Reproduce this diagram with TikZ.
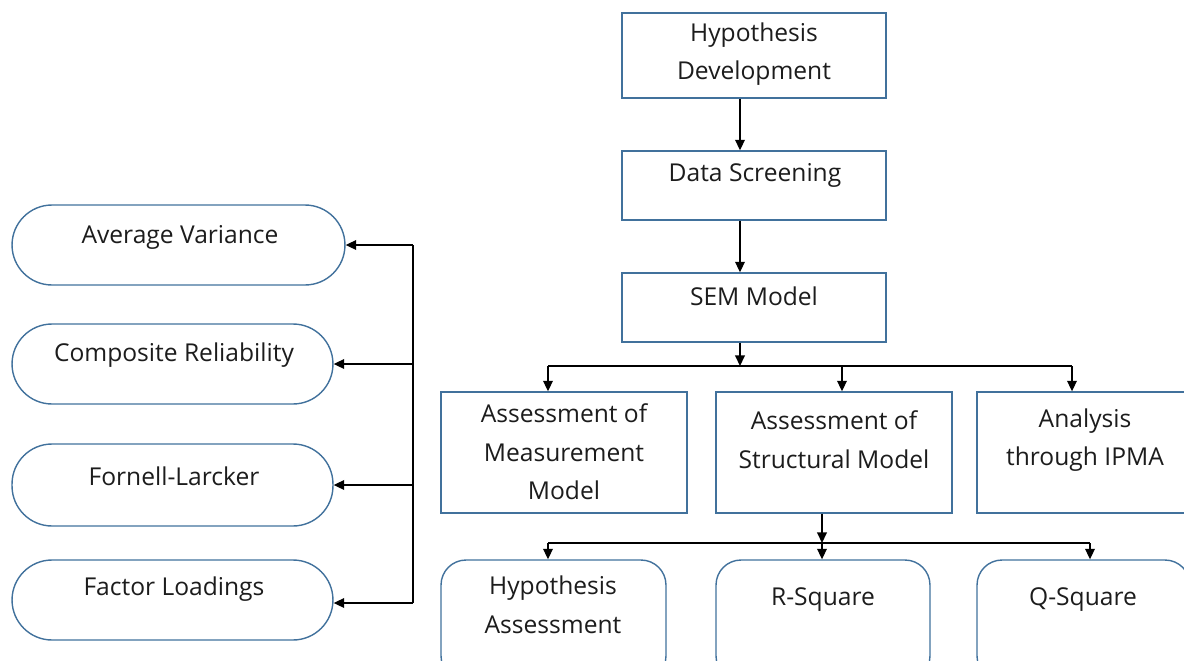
\documentclass[tikz,border=0pt]{standalone}
\usepackage{fontspec}
\setmainfont{Open Sans}
\usetikzlibrary{arrows.meta,positioning}

\definecolor{boxline}{HTML}{41719C}
\definecolor{inkgray}{HTML}{1C1C1C}

\begin{document}
\begin{tikzpicture}[
                    x=0.02cm, y=-0.02cm,
                    every node/.style={font=\fontsize{14}{22}\selectfont, text=inkgray},
                    stepbox/.style={rectangle, draw=boxline, line width=0.8pt, inner sep=0pt},
                    softbox/.style={stepbox, rounded corners=0.5cm},
                    pill/.style={stepbox, rounded corners=0.8cm},
                    txt/.style={align=center, inner sep=0pt},
                    link/.style={line width=0.8pt, -{Triangle[length=6pt,width=5.5pt]}},
                ]
                \useasboundingbox (0,0) rectangle (1184,660);
                \clip (0,0) rectangle (1184,660);

                % main column
                \node[stepbox, minimum width=5.28cm, minimum height=1.70cm] (hyp) at (754,55.5) {};
                \node[stepbox, minimum width=5.28cm, minimum height=1.38cm] (screen) at (754,185.5) {};
                \node[stepbox, minimum width=5.28cm, minimum height=1.38cm] (sem) at (754,307.5) {};
                \node[txt] (hypT) at (754,54) {Hypothesis\\Development};
                \node[txt] (screenT) at (755,175) {Data Screening};
                \node[txt] (semT) at (754,296) {SEM Model};

                % second row
                \node[stepbox, minimum width=4.92cm, minimum height=2.42cm] (meas) at (564,452.5) {};
                \node[stepbox, minimum width=4.72cm, minimum height=2.42cm] (struct) at (834,452.5) {};
                \node[stepbox, minimum width=4.26cm, minimum height=2.42cm] (ipma) at (1083.5,452.5) {};
                \node[txt] (measT) at (564,452) {Assessment of\\Measurement\\Model};
                \node[txt] (structT) at (834,440) {Assessment of\\Structural Model};
                \node[txt] (ipmaT) at (1085,440) {Analysis\\through IPMA};

                % third row
                \node[softbox, minimum width=4.50cm, minimum height=2.42cm] (hassess) at (553.5,620.5) {};
                \node[softbox, minimum width=4.28cm, minimum height=2.42cm] (rsq) at (823,620.5) {};
                \node[softbox, minimum width=4.26cm, minimum height=2.42cm] (qsq) at (1083.5,620.5) {};
                \node[txt] (hassessT) at (553,605) {Hypothesis\\Assessment};
                \node[txt] (rsqT) at (823,600) {R-Square};
                \node[txt] (qsqT) at (1083,600) {Q-Square};

                % measurement criteria
                \node[pill, minimum width=6.66cm, minimum height=1.60cm] (ave) at (178.5,245) {};
                \node[pill, minimum width=6.42cm, minimum height=1.60cm] (comp) at (172.5,364) {};
                \node[pill, minimum width=6.42cm, minimum height=1.64cm] (fornell) at (172.5,485) {};
                \node[pill, minimum width=6.42cm, minimum height=1.60cm] (loads) at (172.5,600) {};
                \node[txt] (aveT) at (180,237) {Average Variance};
                \node[txt] (compT) at (174,355) {Composite Reliability};
                \node[txt] (fornellT) at (174,476) {Fornell-Larcker};
                \node[txt] (loadsT) at (174,589) {Factor Loadings};

                % junctions
                \coordinate (jsem) at (740,366);
                \coordinate (b1) at (548,366);
                \coordinate (b2) at (842,366);
                \coordinate (b3) at (1072,366);
                \coordinate (jst) at (822,543);
                \coordinate (c1) at (548,543);
                \coordinate (c3) at (1090,543);
                \coordinate (busT) at (413,245);
                \coordinate (busB) at (413,603);

                \draw[link] (jsem|-hyp.south) -- (jsem|-screen.north);
                \draw[link] (jsem|-screen.south) -- (jsem|-sem.north);
                \draw[link] (jsem|-sem.south) -- (jsem);
                \draw[line width=0.8pt] (b1) -- (b3);
                \draw[link] (b1) -- (b1|-meas.north);
                \draw[link] (b2) -- (b2|-struct.north);
                \draw[link] (b3) -- (b3|-ipma.north);

                \draw[link] (jst|-struct.south) -- (jst);
                \draw[line width=0.8pt] (c1) -- (c3);
                \draw[link] (c1) -- (c1|-hassess.north);
                \draw[link] (jst) -- (jst|-rsq.north);
                \draw[link] (c3) -- (c3|-qsq.north);

                \draw[line width=0.8pt] (busT) -- (busB);
                \draw[link] (busT) -- (ave.east);
                \draw[link] (busT|-comp.east) -- (comp.east);
                \draw[link] (busT|-fornell.east) -- (fornell.east);
                \draw[link] (busB) -- (busB-|loads.east);
            \end{tikzpicture}
\end{document}
